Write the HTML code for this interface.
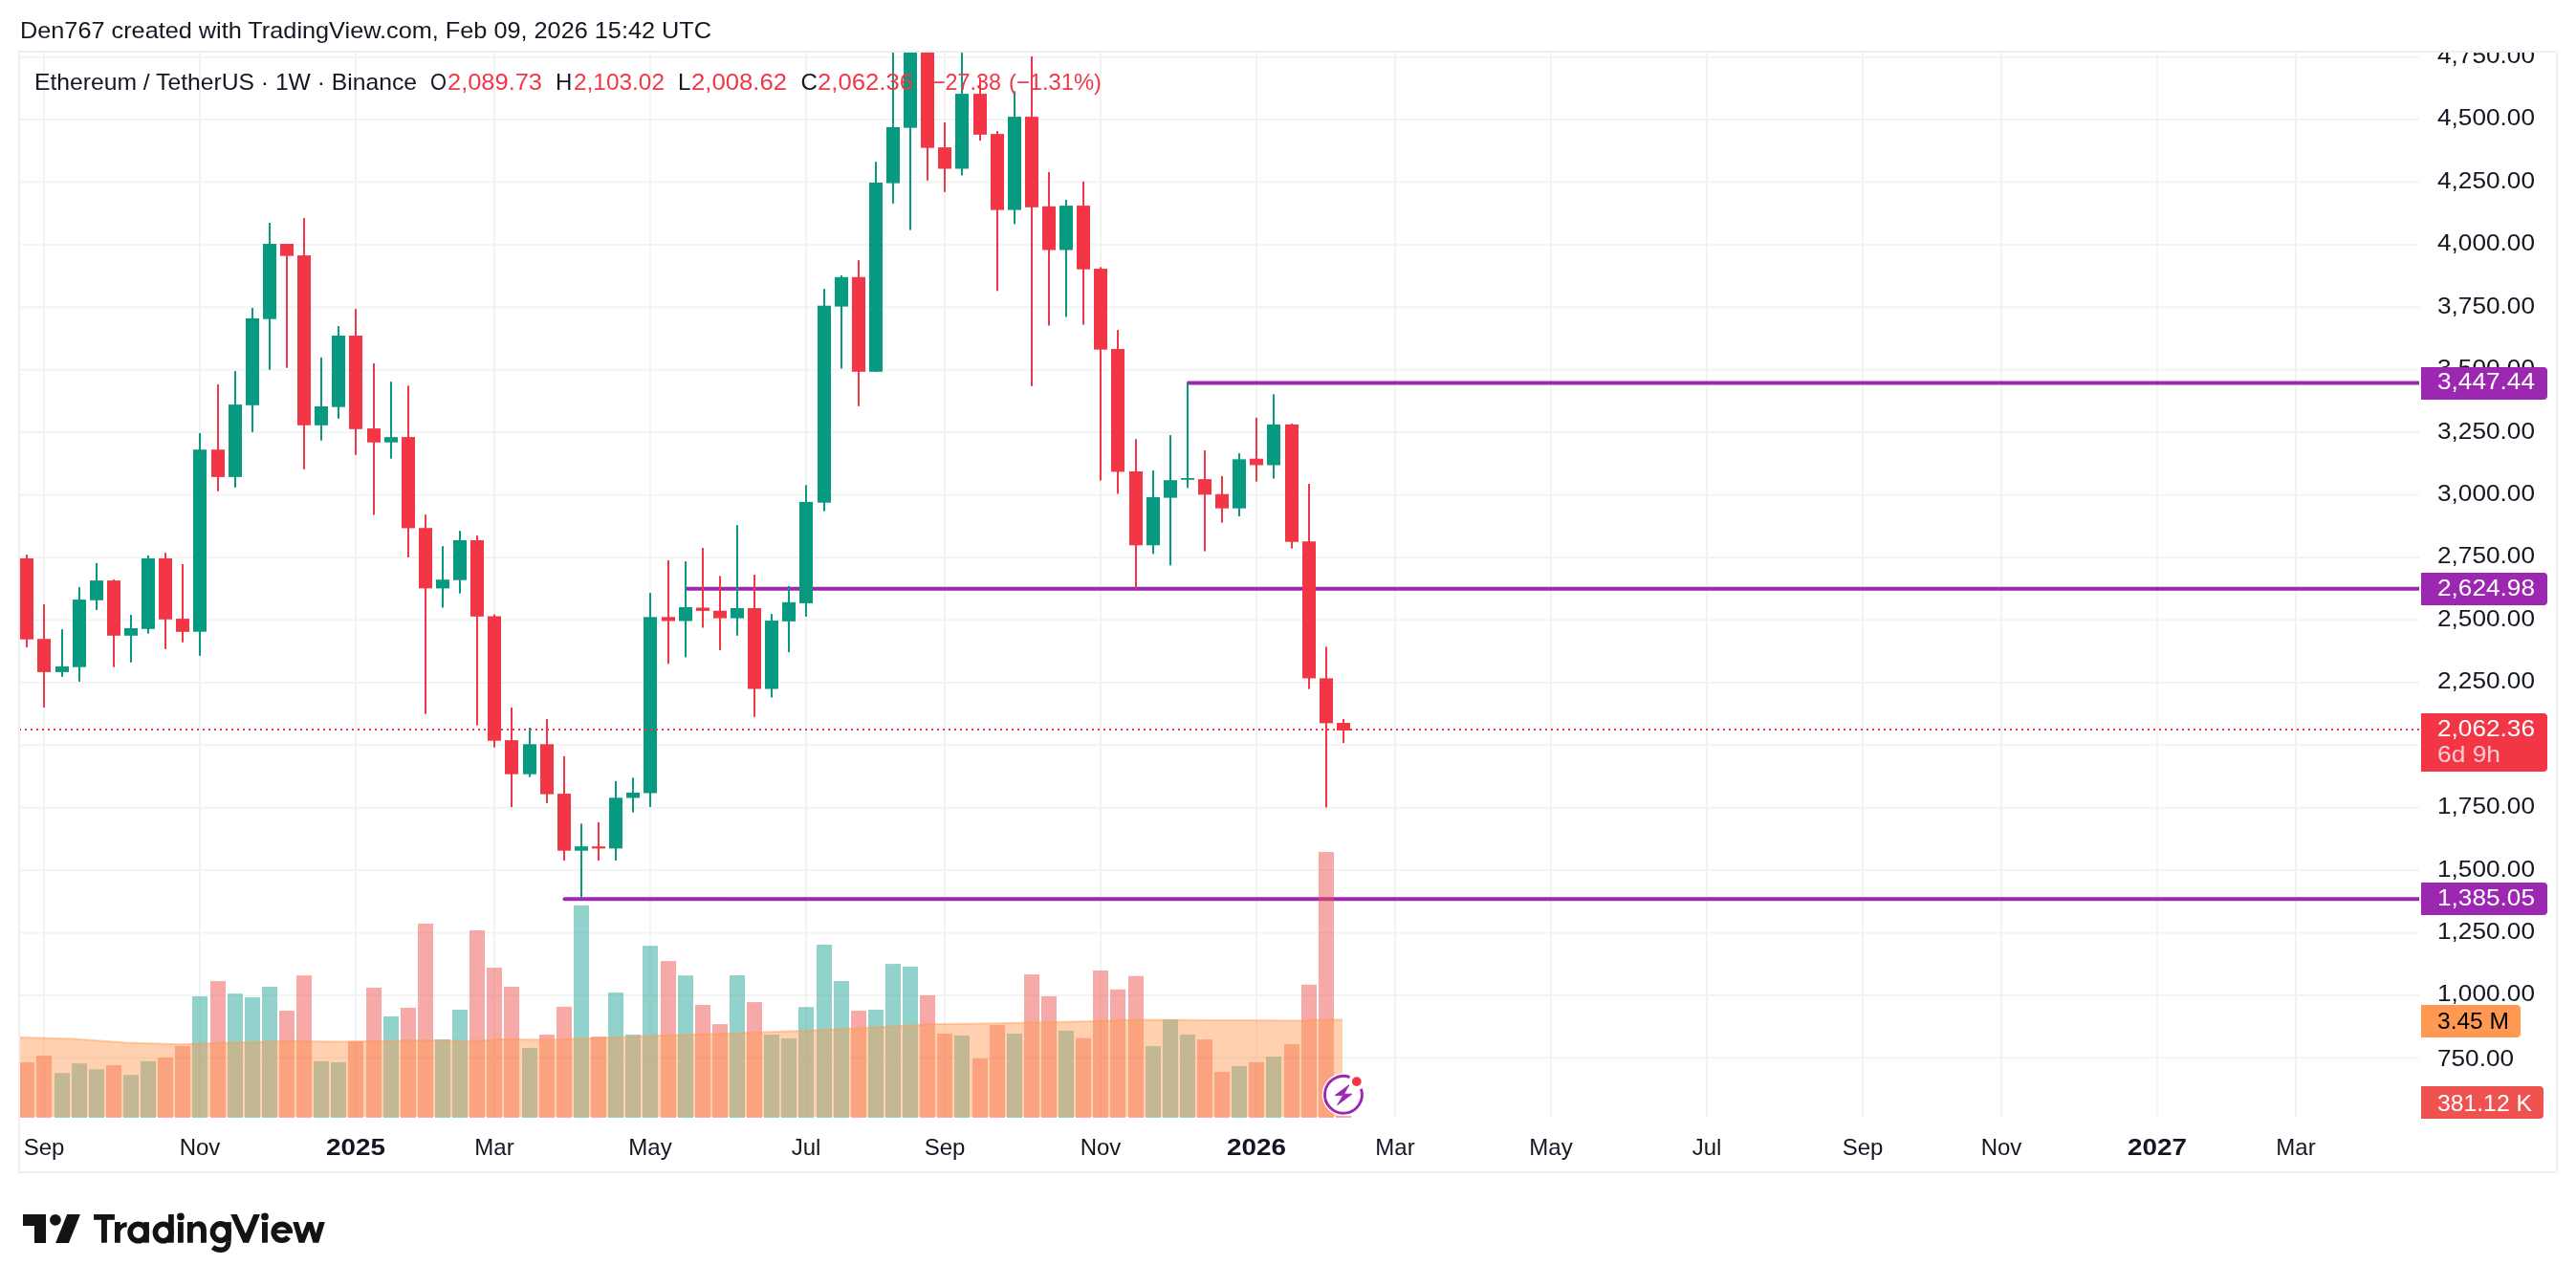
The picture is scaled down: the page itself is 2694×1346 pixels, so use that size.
<!DOCTYPE html><html><head><meta charset="utf-8"><style>html,body{margin:0;padding:0;background:#fff;}svg{display:block;will-change:transform;}</style></head><body>
<svg width="2694" height="1346" viewBox="0 0 2694 1346" font-family='"Liberation Sans", sans-serif'>
<rect x="0" y="0" width="2694" height="1346" fill="#ffffff"/>
<text x="21" y="40" font-size="24" fill="#131722" textLength="723" lengthAdjust="spacingAndGlyphs">Den767 created with TradingView.com, Feb 09, 2026 15:42 UTC</text>
<rect x="20" y="54" width="2654" height="1172" fill="none" stroke="#eeefef" stroke-width="2"/>
<defs><clipPath id="pane"><rect x="21" y="55" width="2509" height="1114"/></clipPath></defs>
<g clip-path="url(#pane)">
<rect x="21" y="1105.4" width="2509" height="2" fill="#f2f4f3"/>
<rect x="21" y="1040.0" width="2509" height="2" fill="#f2f4f3"/>
<rect x="21" y="974.6" width="2509" height="2" fill="#f2f4f3"/>
<rect x="21" y="909.1" width="2509" height="2" fill="#f2f4f3"/>
<rect x="21" y="843.7" width="2509" height="2" fill="#f2f4f3"/>
<rect x="21" y="778.3" width="2509" height="2" fill="#f2f4f3"/>
<rect x="21" y="712.9" width="2509" height="2" fill="#f2f4f3"/>
<rect x="21" y="647.4" width="2509" height="2" fill="#f2f4f3"/>
<rect x="21" y="582.0" width="2509" height="2" fill="#f2f4f3"/>
<rect x="21" y="516.6" width="2509" height="2" fill="#f2f4f3"/>
<rect x="21" y="451.1" width="2509" height="2" fill="#f2f4f3"/>
<rect x="21" y="385.7" width="2509" height="2" fill="#f2f4f3"/>
<rect x="21" y="320.3" width="2509" height="2" fill="#f2f4f3"/>
<rect x="21" y="254.9" width="2509" height="2" fill="#f2f4f3"/>
<rect x="21" y="189.4" width="2509" height="2" fill="#f2f4f3"/>
<rect x="21" y="124.0" width="2509" height="2" fill="#f2f4f3"/>
<rect x="21" y="58.6" width="2509" height="2" fill="#f2f4f3"/>
<rect x="45" y="55" width="2" height="1114" fill="#f2f4f3"/>
<rect x="208" y="55" width="2" height="1114" fill="#f2f4f3"/>
<rect x="371" y="55" width="2" height="1114" fill="#f2f4f3"/>
<rect x="516" y="55" width="2" height="1114" fill="#f2f4f3"/>
<rect x="679" y="55" width="2" height="1114" fill="#f2f4f3"/>
<rect x="842" y="55" width="2" height="1114" fill="#f2f4f3"/>
<rect x="987" y="55" width="2" height="1114" fill="#f2f4f3"/>
<rect x="1150" y="55" width="2" height="1114" fill="#f2f4f3"/>
<rect x="1313" y="55" width="2" height="1114" fill="#f2f4f3"/>
<rect x="1458" y="55" width="2" height="1114" fill="#f2f4f3"/>
<rect x="1621" y="55" width="2" height="1114" fill="#f2f4f3"/>
<rect x="1784" y="55" width="2" height="1114" fill="#f2f4f3"/>
<rect x="1947" y="55" width="2" height="1114" fill="#f2f4f3"/>
<rect x="2092" y="55" width="2" height="1114" fill="#f2f4f3"/>
<rect x="2255" y="55" width="2" height="1114" fill="#f2f4f3"/>
<rect x="2400" y="55" width="2" height="1114" fill="#f2f4f3"/>
<line x1="1243" y1="400.5" x2="2540" y2="400.5" stroke="#9C27B0" stroke-width="4" stroke-linecap="round"/>
<line x1="718" y1="615.7" x2="2540" y2="615.7" stroke="#9C27B0" stroke-width="4" stroke-linecap="round"/>
<line x1="590.5" y1="940.2" x2="2540" y2="940.2" stroke="#9C27B0" stroke-width="4" stroke-linecap="round"/>
<rect x="21" y="1111.0" width="15" height="58.0" fill="rgba(239,83,80,0.5)"/>
<rect x="38" y="1104.1" width="16" height="64.9" fill="rgba(239,83,80,0.5)"/>
<rect x="57" y="1122.2" width="16" height="46.8" fill="rgba(38,166,154,0.5)"/>
<rect x="75" y="1112.2" width="16" height="56.8" fill="rgba(38,166,154,0.5)"/>
<rect x="93" y="1118.3" width="16" height="50.7" fill="rgba(38,166,154,0.5)"/>
<rect x="111" y="1114.1" width="16" height="54.9" fill="rgba(239,83,80,0.5)"/>
<rect x="129" y="1124.2" width="16" height="44.8" fill="rgba(38,166,154,0.5)"/>
<rect x="147" y="1109.9" width="16" height="59.1" fill="rgba(38,166,154,0.5)"/>
<rect x="165" y="1106.0" width="16" height="63.0" fill="rgba(239,83,80,0.5)"/>
<rect x="183" y="1094.0" width="16" height="75.0" fill="rgba(239,83,80,0.5)"/>
<rect x="201" y="1042.0" width="16" height="127.0" fill="rgba(38,166,154,0.5)"/>
<rect x="220" y="1026.1" width="16" height="142.9" fill="rgba(239,83,80,0.5)"/>
<rect x="238" y="1039.2" width="16" height="129.8" fill="rgba(38,166,154,0.5)"/>
<rect x="256" y="1043.1" width="16" height="125.9" fill="rgba(38,166,154,0.5)"/>
<rect x="274" y="1032.0" width="16" height="137.0" fill="rgba(38,166,154,0.5)"/>
<rect x="292" y="1057.1" width="16" height="111.9" fill="rgba(239,83,80,0.5)"/>
<rect x="310" y="1020.2" width="16" height="148.8" fill="rgba(239,83,80,0.5)"/>
<rect x="328" y="1109.9" width="16" height="59.1" fill="rgba(38,166,154,0.5)"/>
<rect x="346" y="1111.0" width="16" height="58.0" fill="rgba(38,166,154,0.5)"/>
<rect x="364" y="1089.0" width="16" height="80.0" fill="rgba(239,83,80,0.5)"/>
<rect x="383" y="1033.0" width="16" height="136.0" fill="rgba(239,83,80,0.5)"/>
<rect x="401" y="1063.0" width="16" height="106.0" fill="rgba(38,166,154,0.5)"/>
<rect x="419" y="1054.0" width="16" height="115.0" fill="rgba(239,83,80,0.5)"/>
<rect x="437" y="966.0" width="16" height="203.0" fill="rgba(239,83,80,0.5)"/>
<rect x="455" y="1087.0" width="16" height="82.0" fill="rgba(38,166,154,0.5)"/>
<rect x="473" y="1056.0" width="16" height="113.0" fill="rgba(38,166,154,0.5)"/>
<rect x="491" y="973.0" width="16" height="196.0" fill="rgba(239,83,80,0.5)"/>
<rect x="509" y="1012.1" width="16" height="156.9" fill="rgba(239,83,80,0.5)"/>
<rect x="527" y="1032.0" width="16" height="137.0" fill="rgba(239,83,80,0.5)"/>
<rect x="546" y="1096.0" width="16" height="73.0" fill="rgba(38,166,154,0.5)"/>
<rect x="564" y="1082.0" width="16" height="87.0" fill="rgba(239,83,80,0.5)"/>
<rect x="582" y="1052.9" width="16" height="116.1" fill="rgba(239,83,80,0.5)"/>
<rect x="600" y="947.0" width="16" height="222.0" fill="rgba(38,166,154,0.5)"/>
<rect x="618" y="1084.2" width="16" height="84.8" fill="rgba(239,83,80,0.5)"/>
<rect x="636" y="1038.1" width="16" height="130.9" fill="rgba(38,166,154,0.5)"/>
<rect x="654" y="1082.0" width="16" height="87.0" fill="rgba(38,166,154,0.5)"/>
<rect x="672" y="989.2" width="16" height="179.8" fill="rgba(38,166,154,0.5)"/>
<rect x="691" y="1005.1" width="16" height="163.9" fill="rgba(239,83,80,0.5)"/>
<rect x="709" y="1020.2" width="16" height="148.8" fill="rgba(38,166,154,0.5)"/>
<rect x="727" y="1051.0" width="16" height="118.0" fill="rgba(239,83,80,0.5)"/>
<rect x="745" y="1071.1" width="16" height="97.9" fill="rgba(239,83,80,0.5)"/>
<rect x="763" y="1020.0" width="16" height="149.0" fill="rgba(38,166,154,0.5)"/>
<rect x="781" y="1048.1" width="16" height="120.9" fill="rgba(239,83,80,0.5)"/>
<rect x="799" y="1082.1" width="16" height="86.9" fill="rgba(38,166,154,0.5)"/>
<rect x="817" y="1086.1" width="16" height="82.9" fill="rgba(38,166,154,0.5)"/>
<rect x="835" y="1053.2" width="16" height="115.8" fill="rgba(38,166,154,0.5)"/>
<rect x="854" y="988.0" width="16" height="181.0" fill="rgba(38,166,154,0.5)"/>
<rect x="872" y="1026.0" width="16" height="143.0" fill="rgba(38,166,154,0.5)"/>
<rect x="890" y="1057.1" width="16" height="111.9" fill="rgba(239,83,80,0.5)"/>
<rect x="908" y="1056.0" width="16" height="113.0" fill="rgba(38,166,154,0.5)"/>
<rect x="926" y="1008.1" width="16" height="160.9" fill="rgba(38,166,154,0.5)"/>
<rect x="944" y="1011.0" width="16" height="158.0" fill="rgba(38,166,154,0.5)"/>
<rect x="962" y="1041.0" width="16" height="128.0" fill="rgba(239,83,80,0.5)"/>
<rect x="980" y="1081.0" width="16" height="88.0" fill="rgba(239,83,80,0.5)"/>
<rect x="998" y="1083.0" width="16" height="86.0" fill="rgba(38,166,154,0.5)"/>
<rect x="1017" y="1106.9" width="16" height="62.1" fill="rgba(239,83,80,0.5)"/>
<rect x="1035" y="1072.0" width="16" height="97.0" fill="rgba(239,83,80,0.5)"/>
<rect x="1053" y="1081.0" width="16" height="88.0" fill="rgba(38,166,154,0.5)"/>
<rect x="1071" y="1019.1" width="16" height="149.9" fill="rgba(239,83,80,0.5)"/>
<rect x="1089" y="1041.9" width="16" height="127.1" fill="rgba(239,83,80,0.5)"/>
<rect x="1107" y="1077.9" width="16" height="91.1" fill="rgba(38,166,154,0.5)"/>
<rect x="1125" y="1085.7" width="16" height="83.3" fill="rgba(239,83,80,0.5)"/>
<rect x="1143" y="1015.0" width="16" height="154.0" fill="rgba(239,83,80,0.5)"/>
<rect x="1161" y="1034.8" width="16" height="134.2" fill="rgba(239,83,80,0.5)"/>
<rect x="1180" y="1020.8" width="16" height="148.2" fill="rgba(239,83,80,0.5)"/>
<rect x="1198" y="1094.1" width="16" height="74.9" fill="rgba(38,166,154,0.5)"/>
<rect x="1216" y="1066.2" width="16" height="102.8" fill="rgba(38,166,154,0.5)"/>
<rect x="1234" y="1082.1" width="16" height="86.9" fill="rgba(38,166,154,0.5)"/>
<rect x="1252" y="1087.1" width="16" height="81.9" fill="rgba(239,83,80,0.5)"/>
<rect x="1270" y="1121.0" width="16" height="48.0" fill="rgba(239,83,80,0.5)"/>
<rect x="1288" y="1115.1" width="16" height="53.9" fill="rgba(38,166,154,0.5)"/>
<rect x="1306" y="1110.9" width="16" height="58.1" fill="rgba(239,83,80,0.5)"/>
<rect x="1324" y="1105.0" width="16" height="64.0" fill="rgba(38,166,154,0.5)"/>
<rect x="1343" y="1091.9" width="16" height="77.1" fill="rgba(239,83,80,0.5)"/>
<rect x="1361" y="1029.8" width="16" height="139.2" fill="rgba(239,83,80,0.5)"/>
<rect x="1379" y="891.0" width="16" height="278.0" fill="rgba(239,83,80,0.5)"/>
<rect x="1397" y="1167.0" width="16" height="2.0" fill="rgba(239,83,80,0.5)"/>
<polygon points="21,1168 20,1085.0 76,1086.4 132,1090.4 188,1092.3 300,1088.7 355,1089.5 439,1088.1 495,1088.7 523,1087.0 579,1087.6 635,1085.3 691,1083.1 740,1081.5 793,1079.7 866,1077.0 939,1073.3 976,1071.0 1030,1070.6 1100,1069.1 1136,1068.2 1186,1066.6 1300,1067.0 1360,1067.6 1385,1066.4 1404,1066.4 1404,1168" fill="rgba(255,152,80,0.45)"/>
<polyline points="20,1085.0 76,1086.4 132,1090.4 188,1092.3 300,1088.7 355,1089.5 439,1088.1 495,1088.7 523,1087.0 579,1087.6 635,1085.3 691,1083.1 740,1081.5 793,1079.7 866,1077.0 939,1073.3 976,1071.0 1030,1070.6 1100,1069.1 1136,1068.2 1186,1066.6 1300,1067.0 1360,1067.6 1385,1066.4 1404,1066.4" fill="none" stroke="rgba(255,152,80,0.45)" stroke-width="2"/>
<rect x="27" y="580.1" width="2" height="96.9" fill="#F23645"/>
<rect x="21" y="584.0" width="14" height="84.7" fill="#F23645"/>
<rect x="45" y="632.0" width="2" height="107.9" fill="#F23645"/>
<rect x="39" y="668.2" width="14" height="34.7" fill="#F23645"/>
<rect x="64" y="658.1" width="2" height="49.7" fill="#089981"/>
<rect x="58" y="697.0" width="14" height="5.9" fill="#089981"/>
<rect x="82" y="614.1" width="2" height="98.8" fill="#089981"/>
<rect x="76" y="627.1" width="14" height="70.6" fill="#089981"/>
<rect x="100" y="588.9" width="2" height="49.1" fill="#089981"/>
<rect x="94" y="607.1" width="14" height="20.7" fill="#089981"/>
<rect x="118" y="606.1" width="2" height="91.6" fill="#F23645"/>
<rect x="112" y="607.1" width="14" height="57.7" fill="#F23645"/>
<rect x="136" y="643.0" width="2" height="49.8" fill="#089981"/>
<rect x="130" y="657.0" width="14" height="7.8" fill="#089981"/>
<rect x="154" y="580.9" width="2" height="81.8" fill="#089981"/>
<rect x="148" y="584.0" width="14" height="73.8" fill="#089981"/>
<rect x="172" y="578.1" width="2" height="100.7" fill="#F23645"/>
<rect x="166" y="584.0" width="14" height="63.8" fill="#F23645"/>
<rect x="190" y="590.0" width="2" height="81.8" fill="#F23645"/>
<rect x="184" y="647.1" width="14" height="13.7" fill="#F23645"/>
<rect x="208" y="453.0" width="2" height="232.9" fill="#089981"/>
<rect x="202" y="470.2" width="14" height="190.5" fill="#089981"/>
<rect x="227" y="402.1" width="2" height="111.7" fill="#F23645"/>
<rect x="221" y="470.2" width="14" height="28.7" fill="#F23645"/>
<rect x="245" y="388.1" width="2" height="121.7" fill="#089981"/>
<rect x="239" y="423.1" width="14" height="75.8" fill="#089981"/>
<rect x="263" y="322.1" width="2" height="129.8" fill="#089981"/>
<rect x="257" y="333.0" width="14" height="90.8" fill="#089981"/>
<rect x="281" y="233.0" width="2" height="153.7" fill="#089981"/>
<rect x="275" y="255.0" width="14" height="78.7" fill="#089981"/>
<rect x="299" y="255.0" width="2" height="129.8" fill="#F23645"/>
<rect x="293" y="255.0" width="14" height="12.7" fill="#F23645"/>
<rect x="317" y="228.1" width="2" height="262.7" fill="#F23645"/>
<rect x="311" y="267.1" width="14" height="177.7" fill="#F23645"/>
<rect x="335" y="373.8" width="2" height="87.0" fill="#089981"/>
<rect x="329" y="425.0" width="14" height="19.8" fill="#089981"/>
<rect x="353" y="341.0" width="2" height="96.8" fill="#089981"/>
<rect x="347" y="351.0" width="14" height="74.7" fill="#089981"/>
<rect x="371" y="323.1" width="2" height="152.7" fill="#F23645"/>
<rect x="365" y="351.0" width="14" height="97.8" fill="#F23645"/>
<rect x="390" y="380.1" width="2" height="158.4" fill="#F23645"/>
<rect x="384" y="448.1" width="14" height="14.6" fill="#F23645"/>
<rect x="408" y="399.2" width="2" height="80.5" fill="#089981"/>
<rect x="402" y="457.1" width="14" height="5.6" fill="#089981"/>
<rect x="426" y="403.4" width="2" height="179.5" fill="#F23645"/>
<rect x="420" y="457.1" width="14" height="95.3" fill="#F23645"/>
<rect x="444" y="538.2" width="2" height="208.5" fill="#F23645"/>
<rect x="438" y="552.2" width="14" height="63.2" fill="#F23645"/>
<rect x="462" y="571.2" width="2" height="64.3" fill="#089981"/>
<rect x="456" y="606.2" width="14" height="9.2" fill="#089981"/>
<rect x="480" y="555.2" width="2" height="65.5" fill="#089981"/>
<rect x="474" y="565.0" width="14" height="41.7" fill="#089981"/>
<rect x="498" y="560.0" width="2" height="198.7" fill="#F23645"/>
<rect x="492" y="565.0" width="14" height="79.8" fill="#F23645"/>
<rect x="516" y="642.5" width="2" height="139.2" fill="#F23645"/>
<rect x="510" y="644.5" width="14" height="130.2" fill="#F23645"/>
<rect x="534" y="740.0" width="2" height="104.1" fill="#F23645"/>
<rect x="528" y="774.1" width="14" height="35.6" fill="#F23645"/>
<rect x="553" y="761.0" width="2" height="51.7" fill="#089981"/>
<rect x="547" y="778.3" width="14" height="31.4" fill="#089981"/>
<rect x="571" y="752.0" width="2" height="87.9" fill="#F23645"/>
<rect x="565" y="778.3" width="14" height="52.3" fill="#F23645"/>
<rect x="589" y="790.9" width="2" height="109.1" fill="#F23645"/>
<rect x="583" y="830.1" width="14" height="59.6" fill="#F23645"/>
<rect x="607" y="861.4" width="2" height="78.3" fill="#089981"/>
<rect x="601" y="885.2" width="14" height="4.5" fill="#089981"/>
<rect x="625" y="860.0" width="2" height="40.0" fill="#F23645"/>
<rect x="619" y="885.2" width="14" height="2.2" fill="#F23645"/>
<rect x="643" y="816.9" width="2" height="83.1" fill="#089981"/>
<rect x="637" y="834.3" width="14" height="53.1" fill="#089981"/>
<rect x="661" y="813.3" width="2" height="36.4" fill="#089981"/>
<rect x="655" y="829.0" width="14" height="5.5" fill="#089981"/>
<rect x="679" y="620.1" width="2" height="224.0" fill="#089981"/>
<rect x="673" y="645.3" width="14" height="184.2" fill="#089981"/>
<rect x="698" y="586.0" width="2" height="108.3" fill="#F23645"/>
<rect x="692" y="645.3" width="14" height="4.2" fill="#F23645"/>
<rect x="716" y="587.1" width="2" height="100.2" fill="#089981"/>
<rect x="710" y="635.0" width="14" height="14.5" fill="#089981"/>
<rect x="734" y="573.1" width="2" height="83.4" fill="#F23645"/>
<rect x="728" y="635.5" width="14" height="3.4" fill="#F23645"/>
<rect x="752" y="602.4" width="2" height="77.5" fill="#F23645"/>
<rect x="746" y="638.7" width="14" height="7.9" fill="#F23645"/>
<rect x="770" y="549.2" width="2" height="115.6" fill="#089981"/>
<rect x="764" y="636.0" width="14" height="10.6" fill="#089981"/>
<rect x="788" y="601.0" width="2" height="148.8" fill="#F23645"/>
<rect x="782" y="636.0" width="14" height="84.5" fill="#F23645"/>
<rect x="806" y="642.1" width="2" height="87.4" fill="#089981"/>
<rect x="800" y="649.1" width="14" height="71.4" fill="#089981"/>
<rect x="824" y="613.0" width="2" height="69.1" fill="#089981"/>
<rect x="818" y="629.8" width="14" height="20.1" fill="#089981"/>
<rect x="842" y="507.3" width="2" height="137.6" fill="#089981"/>
<rect x="836" y="524.9" width="14" height="106.0" fill="#089981"/>
<rect x="861" y="302.1" width="2" height="232.6" fill="#089981"/>
<rect x="855" y="319.7" width="14" height="206.0" fill="#089981"/>
<rect x="879" y="288.1" width="2" height="97.4" fill="#089981"/>
<rect x="873" y="289.8" width="14" height="30.8" fill="#089981"/>
<rect x="897" y="272.2" width="2" height="152.6" fill="#F23645"/>
<rect x="891" y="289.8" width="14" height="99.0" fill="#F23645"/>
<rect x="915" y="169.2" width="2" height="219.6" fill="#089981"/>
<rect x="909" y="191.0" width="14" height="197.8" fill="#089981"/>
<rect x="933" y="55.0" width="2" height="157.9" fill="#089981"/>
<rect x="927" y="133.0" width="14" height="58.6" fill="#089981"/>
<rect x="951" y="55.0" width="2" height="185.6" fill="#089981"/>
<rect x="945" y="55.0" width="14" height="78.7" fill="#089981"/>
<rect x="969" y="55.0" width="2" height="133.8" fill="#F23645"/>
<rect x="963" y="55.0" width="14" height="99.7" fill="#F23645"/>
<rect x="987" y="128.1" width="2" height="72.7" fill="#F23645"/>
<rect x="981" y="154.1" width="14" height="22.4" fill="#F23645"/>
<rect x="1005" y="55.1" width="2" height="128.4" fill="#089981"/>
<rect x="999" y="98.1" width="14" height="78.4" fill="#089981"/>
<rect x="1024" y="81.1" width="2" height="66.0" fill="#F23645"/>
<rect x="1018" y="98.1" width="14" height="42.7" fill="#F23645"/>
<rect x="1042" y="137.1" width="2" height="167.2" fill="#F23645"/>
<rect x="1036" y="140.1" width="14" height="79.5" fill="#F23645"/>
<rect x="1060" y="95.3" width="2" height="139.1" fill="#089981"/>
<rect x="1054" y="122.1" width="14" height="97.5" fill="#089981"/>
<rect x="1078" y="59.0" width="2" height="344.8" fill="#F23645"/>
<rect x="1072" y="122.1" width="14" height="94.7" fill="#F23645"/>
<rect x="1096" y="180.0" width="2" height="160.5" fill="#F23645"/>
<rect x="1090" y="215.8" width="14" height="45.7" fill="#F23645"/>
<rect x="1114" y="209.0" width="2" height="122.5" fill="#089981"/>
<rect x="1108" y="215.1" width="14" height="46.4" fill="#089981"/>
<rect x="1132" y="189.9" width="2" height="149.7" fill="#F23645"/>
<rect x="1126" y="215.1" width="14" height="66.6" fill="#F23645"/>
<rect x="1150" y="279.4" width="2" height="223.2" fill="#F23645"/>
<rect x="1144" y="281.1" width="14" height="84.5" fill="#F23645"/>
<rect x="1168" y="345.2" width="2" height="171.3" fill="#F23645"/>
<rect x="1162" y="365.0" width="14" height="128.4" fill="#F23645"/>
<rect x="1187" y="459.3" width="2" height="156.4" fill="#F23645"/>
<rect x="1181" y="493.0" width="14" height="77.3" fill="#F23645"/>
<rect x="1205" y="492.0" width="2" height="87.3" fill="#089981"/>
<rect x="1199" y="520.0" width="14" height="50.3" fill="#089981"/>
<rect x="1223" y="455.1" width="2" height="136.2" fill="#089981"/>
<rect x="1217" y="502.2" width="14" height="18.4" fill="#089981"/>
<rect x="1241" y="400.6" width="2" height="109.7" fill="#089981"/>
<rect x="1235" y="500.0" width="14" height="1.8" fill="#089981"/>
<rect x="1259" y="471.0" width="2" height="105.5" fill="#F23645"/>
<rect x="1253" y="501.1" width="14" height="16.2" fill="#F23645"/>
<rect x="1277" y="497.9" width="2" height="48.7" fill="#F23645"/>
<rect x="1271" y="516.8" width="14" height="14.9" fill="#F23645"/>
<rect x="1295" y="474.1" width="2" height="66.0" fill="#089981"/>
<rect x="1289" y="480.3" width="14" height="51.4" fill="#089981"/>
<rect x="1313" y="436.9" width="2" height="66.7" fill="#F23645"/>
<rect x="1307" y="479.7" width="14" height="6.8" fill="#F23645"/>
<rect x="1331" y="412.3" width="2" height="88.2" fill="#089981"/>
<rect x="1325" y="443.9" width="14" height="42.6" fill="#089981"/>
<rect x="1350" y="443.1" width="2" height="130.6" fill="#F23645"/>
<rect x="1344" y="443.9" width="14" height="122.8" fill="#F23645"/>
<rect x="1368" y="506.0" width="2" height="214.6" fill="#F23645"/>
<rect x="1362" y="566.2" width="14" height="143.2" fill="#F23645"/>
<rect x="1386" y="676.4" width="2" height="168.2" fill="#F23645"/>
<rect x="1380" y="709.4" width="14" height="47.0" fill="#F23645"/>
<rect x="1404" y="752.0" width="2" height="25.0" fill="#F23645"/>
<rect x="1398" y="756.0" width="14" height="8.0" fill="#F23645"/>
<line x1="20" y1="763.0" x2="2530" y2="763.0" stroke="#F23645" stroke-width="2" stroke-dasharray="2 4"/>
</g>
<g>
<circle cx="1404.95" cy="1144.8" r="22.3" fill="#ffffff"/>
<path d="M 1411.60 1126.52 A 19.45 19.45 0 1 0 1423.45 1138.79" fill="none" stroke="#9C27B0" stroke-width="2.9"/>
<circle cx="1418.8" cy="1131.1" r="4.9" fill="#F23645"/>
<polygon points="1410.8,1134.7 1396.2,1145.6 1404.6,1145.6 1398.6,1155.7 1413.8,1144.2 1405.6,1144.2" fill="#9C27B0" stroke="#9C27B0" stroke-width="0.9" stroke-linejoin="round"/>
</g>
<text x="36" y="94" font-size="24" fill="#131722" textLength="400" lengthAdjust="spacingAndGlyphs">Ethereum / TetherUS · 1W · Binance</text>
<text x="450" y="94" font-size="24" fill="#131722" textLength="17" lengthAdjust="spacingAndGlyphs">O</text>
<text x="468" y="94" font-size="24" fill="#F23645" textLength="99" lengthAdjust="spacingAndGlyphs">2,089.73</text>
<text x="581" y="94" font-size="24" fill="#131722">H</text>
<text x="600" y="94" font-size="24" fill="#F23645" textLength="95" lengthAdjust="spacingAndGlyphs">2,103.02</text>
<text x="709" y="94" font-size="24" fill="#131722">L</text>
<text x="723" y="94" font-size="24" fill="#F23645" textLength="100" lengthAdjust="spacingAndGlyphs">2,008.62</text>
<text x="837.5" y="94" font-size="24" fill="#131722">C</text>
<text x="855" y="94" font-size="24" fill="#F23645" textLength="100" lengthAdjust="spacingAndGlyphs">2,062.36</text>
<text x="975" y="94" font-size="24" fill="#F23645" textLength="72" lengthAdjust="spacingAndGlyphs">−27.38</text>
<text x="1055" y="94" font-size="24" fill="#F23645" textLength="97" lengthAdjust="spacingAndGlyphs">(−1.31%)</text>
<defs><clipPath id="axis"><rect x="2530" y="55" width="143" height="1115"/></clipPath></defs>
<g clip-path="url(#axis)">
<text x="2549" y="1114.8" font-size="24" fill="#131722" textLength="80" lengthAdjust="spacingAndGlyphs">750.00</text>
<text x="2549" y="1047.4" font-size="24" fill="#131722" textLength="102" lengthAdjust="spacingAndGlyphs">1,000.00</text>
<text x="2549" y="982.0" font-size="24" fill="#131722" textLength="102" lengthAdjust="spacingAndGlyphs">1,250.00</text>
<text x="2549" y="916.5" font-size="24" fill="#131722" textLength="102" lengthAdjust="spacingAndGlyphs">1,500.00</text>
<text x="2549" y="851.1" font-size="24" fill="#131722" textLength="102" lengthAdjust="spacingAndGlyphs">1,750.00</text>
<text x="2549" y="785.7" font-size="24" fill="#131722" textLength="102" lengthAdjust="spacingAndGlyphs">2,000.00</text>
<text x="2549" y="720.3" font-size="24" fill="#131722" textLength="102" lengthAdjust="spacingAndGlyphs">2,250.00</text>
<text x="2549" y="654.8" font-size="24" fill="#131722" textLength="102" lengthAdjust="spacingAndGlyphs">2,500.00</text>
<text x="2549" y="589.4" font-size="24" fill="#131722" textLength="102" lengthAdjust="spacingAndGlyphs">2,750.00</text>
<text x="2549" y="524.0" font-size="24" fill="#131722" textLength="102" lengthAdjust="spacingAndGlyphs">3,000.00</text>
<text x="2549" y="458.5" font-size="24" fill="#131722" textLength="102" lengthAdjust="spacingAndGlyphs">3,250.00</text>
<text x="2549" y="393.1" font-size="24" fill="#131722" textLength="102" lengthAdjust="spacingAndGlyphs">3,500.00</text>
<text x="2549" y="327.7" font-size="24" fill="#131722" textLength="102" lengthAdjust="spacingAndGlyphs">3,750.00</text>
<text x="2549" y="262.3" font-size="24" fill="#131722" textLength="102" lengthAdjust="spacingAndGlyphs">4,000.00</text>
<text x="2549" y="196.8" font-size="24" fill="#131722" textLength="102" lengthAdjust="spacingAndGlyphs">4,250.00</text>
<text x="2549" y="131.4" font-size="24" fill="#131722" textLength="102" lengthAdjust="spacingAndGlyphs">4,500.00</text>
<text x="2549" y="66.0" font-size="24" fill="#131722" textLength="102" lengthAdjust="spacingAndGlyphs">4,750.00</text>
<path d="M 2532 384 H 2660 Q 2664 384 2664 388 V 414 Q 2664 418 2660 418 H 2532 Z" fill="#9C27B0"/>
<text x="2549" y="407" font-size="24" fill="#ffffff" textLength="102" lengthAdjust="spacingAndGlyphs">3,447.44</text>
<path d="M 2532 599 H 2660 Q 2664 599 2664 603 V 629 Q 2664 633 2660 633 H 2532 Z" fill="#9C27B0"/>
<text x="2549" y="623" font-size="24" fill="#ffffff" textLength="102" lengthAdjust="spacingAndGlyphs">2,624.98</text>
<path d="M 2532 923 H 2660 Q 2664 923 2664 927 V 953 Q 2664 957 2660 957 H 2532 Z" fill="#9C27B0"/>
<text x="2549" y="947" font-size="24" fill="#ffffff" textLength="102" lengthAdjust="spacingAndGlyphs">1,385.05</text>
<path d="M 2532 746 H 2660 Q 2664 746 2664 750 V 803 Q 2664 807 2660 807 H 2532 Z" fill="#F23645"/>
<text x="2549" y="770" font-size="24" fill="#ffffff" textLength="102" lengthAdjust="spacingAndGlyphs">2,062.36</text>
<text x="2549" y="797" font-size="24" fill="rgba(255,255,255,0.75)" textLength="66" lengthAdjust="spacingAndGlyphs">6d 9h</text>
<path d="M 2532 1051 H 2632 Q 2636 1051 2636 1055 V 1081 Q 2636 1085 2632 1085 H 2532 Z" fill="#FF9850"/>
<text x="2549" y="1076" font-size="24" fill="#000000" textLength="75" lengthAdjust="spacingAndGlyphs">3.45 M</text>
<path d="M 2532 1136 H 2656 Q 2660 1136 2660 1140 V 1166 Q 2660 1170 2656 1170 H 2532 Z" fill="#EF5350"/>
<text x="2549" y="1162" font-size="24" fill="#ffffff" textLength="99" lengthAdjust="spacingAndGlyphs">381.12 K</text>
</g>
<text x="46" y="1208" font-size="24" fill="#131722" text-anchor="middle">Sep</text>
<text x="209" y="1208" font-size="24" fill="#131722" text-anchor="middle">Nov</text>
<text x="372" y="1208" font-size="24" fill="#131722" textLength="62" lengthAdjust="spacingAndGlyphs" font-weight="bold" text-anchor="middle">2025</text>
<text x="517" y="1208" font-size="24" fill="#131722" text-anchor="middle">Mar</text>
<text x="680" y="1208" font-size="24" fill="#131722" text-anchor="middle">May</text>
<text x="843" y="1208" font-size="24" fill="#131722" text-anchor="middle">Jul</text>
<text x="988" y="1208" font-size="24" fill="#131722" text-anchor="middle">Sep</text>
<text x="1151" y="1208" font-size="24" fill="#131722" text-anchor="middle">Nov</text>
<text x="1314" y="1208" font-size="24" fill="#131722" textLength="62" lengthAdjust="spacingAndGlyphs" font-weight="bold" text-anchor="middle">2026</text>
<text x="1459" y="1208" font-size="24" fill="#131722" text-anchor="middle">Mar</text>
<text x="1622" y="1208" font-size="24" fill="#131722" text-anchor="middle">May</text>
<text x="1785" y="1208" font-size="24" fill="#131722" text-anchor="middle">Jul</text>
<text x="1948" y="1208" font-size="24" fill="#131722" text-anchor="middle">Sep</text>
<text x="2093" y="1208" font-size="24" fill="#131722" text-anchor="middle">Nov</text>
<text x="2256" y="1208" font-size="24" fill="#131722" textLength="62" lengthAdjust="spacingAndGlyphs" font-weight="bold" text-anchor="middle">2027</text>
<text x="2401" y="1208" font-size="24" fill="#131722" text-anchor="middle">Mar</text>
<g fill="#131313">
<path d="M24 1270 H48 V1300 H36 V1282 H24 Z"/>
<circle cx="57.9" cy="1275.8" r="5.9"/>
<path d="M70.2 1270 H83.9 L71.9 1300 H58.1 Z"/>
</g>
<rect x="98.1" y="1270.0" width="21.80" height="5.80" fill="#131313"/>
<rect x="106.0" y="1270.0" width="5.90" height="29.70" fill="#131313"/>
<path d="M120,1299.7 V1278.1 H125.8 V1281.6 C127.2,1279.4 129.6,1278.2 132.7,1278.2 V1283.6 C128.3,1283.3 125.8,1285.9 125.8,1289.8 V1299.7 Z" fill="#131313"/>
<ellipse cx="144.6" cy="1289.0" rx="8.45" ry="8.75" fill="none" stroke="#131313" stroke-width="5.7"/>
<rect x="150.2" y="1278.1" width="5.70" height="21.60" fill="#131313"/>
<ellipse cx="170.7" cy="1289.0" rx="8.25" ry="8.75" fill="none" stroke="#131313" stroke-width="5.7"/>
<rect x="176.1" y="1270.0" width="5.70" height="29.70" fill="#131313"/>
<rect x="186.0" y="1278.1" width="5.80" height="21.60" fill="#131313"/>
<circle cx="188.9" cy="1272.45" r="3.85" fill="#131313"/>
<path d="M196,1299.7 V1278.1 H201.8 V1280.6 C203.3,1278.4 205.4,1277.2 208.0,1277.2 C212.8,1277.2 215.9,1280.6 215.9,1286.6 V1299.7 H210 V1287.6 C210,1284.3 208.6,1282.5 206.0,1282.5 C203.3,1282.5 201.8,1284.6 201.8,1288.2 V1299.7 Z" fill="#131313"/>
<ellipse cx="230.7" cy="1288.6" rx="8.25" ry="8.7" fill="none" stroke="#131313" stroke-width="5.7"/>
<rect x="236.0" y="1278.1" width="5.80" height="20.40" fill="#131313"/>
<path d="M238.9,1298.3 C238.9,1304.5 235.6,1307.3 230.8,1307.3 C227.6,1307.3 224.9,1306.2 222.5,1304.3" fill="none" stroke="#131313" stroke-width="5.4"/>
<polygon points="241.2,1270.0 247.9,1270.0 256.85,1290.3 265.2,1270.0 271.9,1270.0 260.1,1299.7 254.3,1299.7" fill="#131313"/>
<rect x="274.0" y="1278.1" width="5.90" height="21.60" fill="#131313"/>
<circle cx="277.0" cy="1272.45" r="3.85" fill="#131313"/>
<path d="M 303.20 1288.80 A 8.45 8.45 0 1 0 301.59 1293.77" fill="none" stroke="#131313" stroke-width="5.7"/>
<rect x="288.5" y="1286.3" width="17.40" height="3.60" fill="#131313"/>
<polygon points="306.20,1278.10 312.00,1278.10 315.89,1291.24 321.00,1278.10 326.70,1278.10 330.28,1289.99 333.80,1278.10 339.80,1278.10 333.20,1299.70 327.40,1299.70 323.48,1286.48 318.40,1299.70 312.60,1299.70" fill="#131313"/>
</svg></body></html>
